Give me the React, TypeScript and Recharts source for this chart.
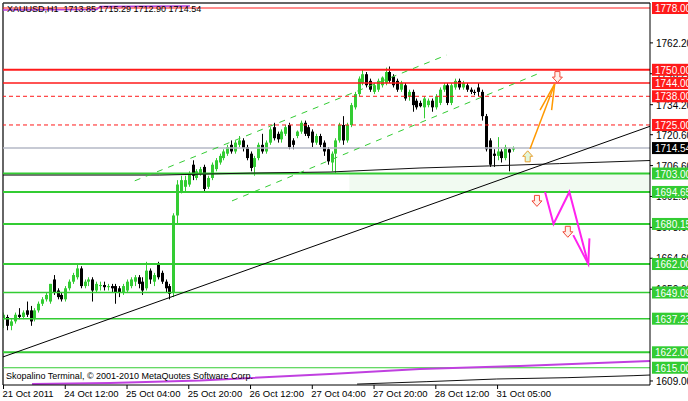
import { ComposedChart, Bar, Line, Scatter, XAxis, YAxis, ReferenceLine, ReferenceArea } from 'recharts';

// hourly XAUUSD bars, 21 Oct 2011 -> 31 Oct 2011
const opens = [
  1637, 1638, 1634, 1636, 1639, 1638, 1641, 1641, 1637, 1641, 1644, 1646, 1645, 1655, 1650, 1648,
  1646, 1651, 1654, 1656, 1660, 1652, 1654, 1655, 1650, 1652, 1652.5, 1651.5, 1652, 1652, 1651, 1649,
  1650, 1652, 1654, 1656, 1654, 1651, 1659, 1654, 1662, 1658, 1654, 1652, 1649, 1684, 1695, 1697,
  1698, 1707, 1701, 1703, 1706, 1697, 1701, 1705, 1708, 1710, 1712, 1716, 1713, 1716, 1718, 1715,
  1712, 1706, 1710, 1716, 1713, 1717, 1724, 1721, 1718.5, 1721, 1725, 1718, 1720, 1722, 1726, 1724,
  1722, 1717, 1720, 1717, 1714, 1708, 1712, 1718, 1725, 1718, 1725, 1733, 1739, 1744, 1748, 1745,
  1740, 1741, 1743, 1744, 1749, 1747, 1745, 1741, 1743, 1738, 1740, 1736, 1735, 1733, 1734, 1736,
  1733, 1735, 1741, 1743, 1735, 1742, 1745, 1742, 1743, 1741, 1740, 1742, 1740, 1729, 1718, 1712,
  1711, 1713, 1710, 1714, 1713.85,
];
const highs = [
  1640, 1639, 1637, 1640, 1642, 1641, 1645, 1643, 1642, 1645, 1647, 1649, 1653, 1657, 1651, 1649,
  1652, 1655, 1658, 1662, 1661, 1655, 1656, 1656, 1654, 1654, 1654, 1653, 1653, 1653, 1652, 1653,
  1655, 1656, 1657, 1657, 1656, 1663, 1660, 1658, 1663, 1659, 1655, 1653, 1685, 1700, 1702, 1702,
  1704, 1709, 1705, 1706, 1707, 1702, 1708, 1710, 1712, 1714, 1716, 1718, 1718, 1720, 1719, 1716,
  1713, 1711, 1717, 1721, 1718, 1724, 1726, 1722, 1723, 1725, 1726, 1719, 1722.5, 1727, 1727, 1725,
  1723, 1721, 1721, 1718, 1715, 1713, 1719, 1726, 1729, 1726, 1735, 1740, 1747, 1750, 1749, 1746,
  1744, 1746, 1747, 1751, 1751.5, 1748, 1746, 1745, 1744, 1741, 1741, 1737, 1736, 1738, 1737, 1737,
  1739, 1742, 1744, 1744, 1744, 1746, 1746, 1745, 1744, 1742, 1741, 1744, 1741, 1730, 1719, 1714,
  1719.5, 1714, 1716, 1714.5, 1715.29,
];
const lows = [
  1633, 1632, 1632, 1635, 1637, 1637, 1638, 1634, 1636, 1640, 1643, 1645, 1644, 1648, 1646, 1645,
  1645, 1650, 1653, 1655, 1651, 1651, 1652, 1645, 1649, 1650, 1650, 1650, 1649, 1644, 1647, 1648,
  1649, 1651, 1652, 1651, 1648, 1650, 1653, 1652, 1655, 1653, 1649, 1646, 1647, 1680, 1694, 1695,
  1697, 1700, 1700, 1702, 1695, 1696, 1700, 1704, 1707, 1709, 1711, 1712, 1712, 1715, 1713, 1709,
  1704, 1702, 1709, 1712, 1712, 1716, 1718, 1717, 1717, 1720, 1714, 1714, 1719, 1721, 1720, 1719,
  1715, 1716, 1715, 1711, 1707, 1704, 1703, 1717, 1716, 1717, 1724, 1732, 1738, 1743, 1742, 1740,
  1739, 1740, 1742, 1743, 1744, 1742, 1740, 1740, 1736, 1736, 1731, 1732, 1733, 1728, 1733, 1731,
  1732, 1734, 1740, 1734, 1734, 1741, 1741, 1741, 1740, 1739, 1738.5, 1738, 1727, 1713, 1706, 1706,
  1709, 1708, 1709, 1704, 1712.9,
];
const closes = [
  1639, 1634, 1636, 1639, 1638, 1640, 1639, 1636, 1641, 1644, 1646, 1648, 1653, 1649, 1647, 1646,
  1651, 1654, 1657, 1660, 1652, 1654, 1655, 1650, 1653, 1652.5, 1651.5, 1652, 1651, 1649, 1649, 1652,
  1654, 1655, 1656, 1653, 1650, 1659, 1655, 1657, 1656, 1654, 1651, 1648.5, 1684, 1698, 1700, 1700,
  1703, 1702, 1704, 1705, 1696, 1701, 1707, 1709, 1711, 1713, 1715, 1713, 1717, 1718, 1714.5, 1710,
  1705.5, 1710, 1716, 1713, 1717, 1723, 1719, 1718.5, 1722, 1724, 1715, 1716, 1722, 1726, 1721, 1720,
  1717, 1720, 1716, 1713, 1708.5, 1712, 1718, 1725, 1718, 1725, 1734, 1739, 1746, 1748, 1743, 1741,
  1743, 1745, 1746.5, 1749, 1745, 1743, 1741, 1744, 1737, 1740, 1734, 1733, 1733.5, 1737, 1736, 1733,
  1738, 1741, 1743, 1735, 1743, 1745, 1742, 1744, 1741, 1740, 1739.5, 1740, 1729, 1714, 1707, 1711,
  1713, 1710, 1715, 1712.5, 1714.54,
];

// time axis labels (every 16 bars)
const timeTicks = [0, 16, 32, 48, 64, 80, 96, 112, 128];
const timeLabels = [
  '21 Oct 2011', '24 Oct 12:00', '25 Oct 04:00', '25 Oct 20:00', '26 Oct 12:00',
  '27 Oct 04:00', '27 Oct 20:00', '28 Oct 12:00', '31 Oct 05:00',
];

// price scale (ticks partly hidden behind the level boxes)
const priceTicks = [1609.0, 1650.6, 1664.6, 1678.6, 1692.6, 1706.6, 1720.6, 1734.2, 1748.2, 1762.2];
const redSolidLevels = [1778, 1750, 1744];
const redDashedLevels = [1738, 1725];
const greenLevels = [1703, 1694.65, 1680.15, 1662, 1649.09, 1637.23, 1622, 1615];
const bidPrice = 1714.54;

// drawn objects, in (bar, price)
const trendLine = [{ i: -0.13, p: 1619.9 }, { i: 167.49, p: 1724.4 }];
const channelUpper = [{ i: 34.0, p: 1699.7 }, { i: 114.8, p: 1756.7 }];
const channelLower = [{ i: 59.2, p: 1690.6 }, { i: 139.0, p: 1748.6 }];
const blackUpper = [
  { i: -0.13, p: 1702.3 }, { i: 40.5, p: 1702.3 }, { i: 63.9, p: 1703.2 }, { i: 84.6, p: 1703.7 },
  { i: 107.9, p: 1705.5 }, { i: 128.6, p: 1706.6 }, { i: 144.1, p: 1707.5 }, { i: 167.49, p: 1708.9 },
];
const magentaLower = [
  { i: 7.4, p: 1607.6 }, { i: 27.6, p: 1608.1 }, { i: 50.9, p: 1609.2 }, { i: 84.6, p: 1612.2 },
  { i: 107.9, p: 1614.4 }, { i: 133.8, p: 1615.8 }, { i: 167.49, p: 1618.0 },
];
const blackLower = [
  { i: 91.6, p: 1607.6 }, { i: 109.7, p: 1608.7 }, { i: 127.8, p: 1609.9 },
  { i: 146.0, p: 1610.5 }, { i: 163.1, p: 1611.4 }, { i: 167.49, p: 1611.7 },
];
const magentaTop = [{ i: -0.13, p: 1777.1 }, { i: 24.2, p: 1777.3 }, { i: 25.0, p: 1778.7 }, { i: 48.3, p: 1778.9 }];
const orangeShaft = [{ i: 136.4, p: 1714.1 }, { i: 142.8, p: 1743.6 }];
const orangeHead = [{ i: 139.0, p: 1731.7 }, { i: 142.8, p: 1743.6 }, { i: 142.0, p: 1731.7 }];
const zigzag = [{ i: 140.3, p: 1694.65 }, { i: 142.5, p: 1680.15 }, { i: 146.6, p: 1694.65 }, { i: 151.5, p: 1662 }];
const zigzagHead = [{ i: 147.6, p: 1675.1 }, { i: 151.5, p: 1662 }, { i: 151.8, p: 1673.6 }];
const upArrows = [{ i: 135.8, p: 1710.8 }];
const downArrows = [{ i: 143.5, p: 1746.7 }, { i: 138.2, p: 1690.6 }, { i: 146.2, p: 1676.6 }];

const GREEN = '#33cc33';
const RED = '#ff1a1a';
const PLOT_RIGHT = 650;
const PLOT_BOTTOM = 385;
const FONT = '"Liberation Sans", Arial, sans-serif';

const candles = opens.map((o, i) => ({
  i,
  o,
  h: highs[i],
  l: lows[i],
  c: closes[i],
  range: [lows[i], highs[i]],
}));

const Candle = (props: any) => {
  const { x, y, width, height, payload } = props;
  const { o, h, l, c } = payload;
  const k = height / (h - l);
  const cx = Math.round(x + width / 2) + 0.5;
  const yo = y + (h - o) * k;
  const yc = y + (h - c) * k;
  const col = c >= o ? GREEN : '#000';
  const top = Math.min(yo, yc);
  const bh = Math.max(1, Math.abs(yc - yo));
  return (
    <g>
      <line x1={cx} x2={cx} y1={y} y2={y + height} stroke={col} strokeWidth={1} />
      <rect x={cx - 1.5} y={top} width={3} height={bh} fill={col} />
    </g>
  );
};

const blockArrow = (dir: 'up' | 'down', stroke: string, fill: string) => (props: any) => {
  const { cx, cy } = props;
  const s = dir === 'down' ? 1 : -1;
  const d = `M${cx - 2.5},${cy - 5.5 * s} L${cx + 2.5},${cy - 5.5 * s} L${cx + 2.5},${cy} L${cx + 5},${cy} L${cx},${cy + 5.5 * s} L${cx - 5},${cy} L${cx - 2.5},${cy} Z`;
  return <path d={d} stroke={stroke} strokeWidth={1} fill={fill} />;
};

const levelBox = (v: number) => {
  if (redSolidLevels.includes(v) || redDashedLevels.includes(v)) return RED;
  if (greenLevels.includes(v)) return GREEN;
  if (v === bidPrice) return '#000';
  return null;
};

const PriceTick = (props: any) => {
  const { y, payload } = props;
  const v = payload.value;
  const bg = levelBox(v);
  if (bg) {
    return (
      <g>
        <rect x={PLOT_RIGHT + 2} y={y - 6} width={40} height={12} fill={bg} />
        <text x={PLOT_RIGHT + 5} y={y + 4} fontSize={10} fontFamily={FONT} fill="#fff">
          {v.toFixed(2)}
        </text>
      </g>
    );
  }
  return (
    <g>
      <line x1={PLOT_RIGHT} x2={PLOT_RIGHT + 3} y1={y} y2={y} stroke="#000" />
      <text x={PLOT_RIGHT + 6} y={y + 4} fontSize={10} fontFamily={FONT} fill="#000">
        {v.toFixed(2)}
      </text>
    </g>
  );
};

const TimeTick = (props: any) => {
  const { x, payload } = props;
  const idx = timeTicks.indexOf(payload.value);
  return (
    <g>
      <line x1={x} x2={x} y1={PLOT_BOTTOM} y2={PLOT_BOTTOM + 4} stroke="#000" />
      <text x={x - 1} y={PLOT_BOTTOM + 12} fontSize={9.5} fontFamily={FONT} fill="#000">
        {timeLabels[idx]}
      </text>
    </g>
  );
};

const levelTicks = [...redSolidLevels, ...redDashedLevels, ...greenLevels, bidPrice];
const redSolidWidths = [1.2, 2, 1.5];
const greenWidths = [2, 2, 2, 2, 1.5, 1.5, 2, 1.2];
const X_DOMAIN = [-0.13, 167.49];
const Y_DOMAIN = [1607.18, 1780.27];

export default function App() {
  return (
    <div style={{ position: 'absolute', left: 0, top: 0, width: 688, height: 401, background: '#fff' }}>
      <ComposedChart
        width={688}
        height={401}
        data={candles}
        margin={{ top: 3, right: 0, bottom: 0, left: 3 }}
      >
        <XAxis
          dataKey="i"
          type="number"
          domain={X_DOMAIN}
          allowDataOverflow
          ticks={timeTicks}
          interval={0}
          tick={<TimeTick />}
          tickLine={false}
          axisLine={{ stroke: '#000' }}
          height={16}
        />
        <YAxis
          orientation="right"
          type="number"
          domain={Y_DOMAIN}
          allowDataOverflow
          ticks={[...priceTicks, ...levelTicks]}
          interval={0}
          tick={<PriceTick />}
          tickLine={false}
          axisLine={{ stroke: '#000' }}
          width={38}
        />
        {/* frame */}
        <ReferenceLine y={Y_DOMAIN[1]} stroke="#333" strokeWidth={1.5} />
        <ReferenceLine x={X_DOMAIN[0]} stroke="#333" strokeWidth={1.5} />

        <ReferenceArea x1={89.6} x2={X_DOMAIN[1]} y1={greenLevels[1]} y2={greenLevels[0]} fill="#f1faf1" fillOpacity={1} stroke="none" />

        {redSolidLevels.map((v, k) => (
          <ReferenceLine key={`rs${v}`} y={v} stroke={RED} strokeWidth={redSolidWidths[k]} />
        ))}
        {redDashedLevels.map((v) => (
          <ReferenceLine key={`rd${v}`} y={v} stroke={RED} strokeWidth={1} strokeDasharray="4 3" />
        ))}
        {greenLevels.map((v, k) => (
          <ReferenceLine key={`g${v}`} y={v} stroke={GREEN} strokeWidth={greenWidths[k]} />
        ))}
        <ReferenceLine y={bidPrice} stroke="#b4b9c6" strokeWidth={1.5} />

        <Line data={magentaTop} dataKey="p" stroke="#b03ad8" strokeWidth={1.5} dot={false} isAnimationActive={false} />
        <Line data={magentaLower} dataKey="p" stroke="#c040e0" strokeWidth={2} dot={false} isAnimationActive={false} />
        <Line data={blackLower} dataKey="p" stroke="#111" strokeWidth={1} dot={false} isAnimationActive={false} />
        <Line data={blackUpper} dataKey="p" stroke="#111" strokeWidth={1} dot={false} isAnimationActive={false} />

        <Bar dataKey="range" barSize={3} shape={<Candle />} isAnimationActive={false} />

        <Line data={trendLine} dataKey="p" stroke="#000" strokeWidth={1} dot={false} isAnimationActive={false} />
        <Line data={channelUpper} dataKey="p" stroke={GREEN} strokeWidth={1} strokeDasharray="6 6" dot={false} isAnimationActive={false} />
        <Line data={channelLower} dataKey="p" stroke={GREEN} strokeWidth={1} strokeDasharray="6 6" dot={false} isAnimationActive={false} />
        <Line data={orangeShaft} dataKey="p" stroke="#ff9900" strokeWidth={1.5} dot={false} isAnimationActive={false} />
        <Line data={orangeHead} dataKey="p" stroke="#ff9900" strokeWidth={1.5} dot={false} isAnimationActive={false} />
        <Line data={zigzag} dataKey="p" stroke="#ff22ee" strokeWidth={2} dot={false} isAnimationActive={false} />
        <Line data={zigzagHead} dataKey="p" stroke="#ff22ee" strokeWidth={2} dot={false} isAnimationActive={false} />
        <Scatter data={upArrows} dataKey="p" shape={blockArrow('up', '#e8a030', '#e2f6da')} isAnimationActive={false} />
        <Scatter data={downArrows} dataKey="p" shape={blockArrow('down', '#f04a3a', '#fff0ea')} isAnimationActive={false} />
      </ComposedChart>
      <div style={{ position: 'absolute', left: 7, top: 4, fontFamily: FONT, fontSize: 9, color: '#000', whiteSpace: 'pre', lineHeight: '11px' }}>
        {'XAUUSD,H1  1713.85 1715.29 1712.90 1714.54'}
      </div>
      <div style={{ position: 'absolute', left: 6, top: 371, fontFamily: FONT, fontSize: 9, color: '#000', whiteSpace: 'pre', lineHeight: '11px' }}>
        {'Skopalino Terminal, © 2001-2010 MetaQuotes Software Corp.'}
      </div>
    </div>
  );
}
